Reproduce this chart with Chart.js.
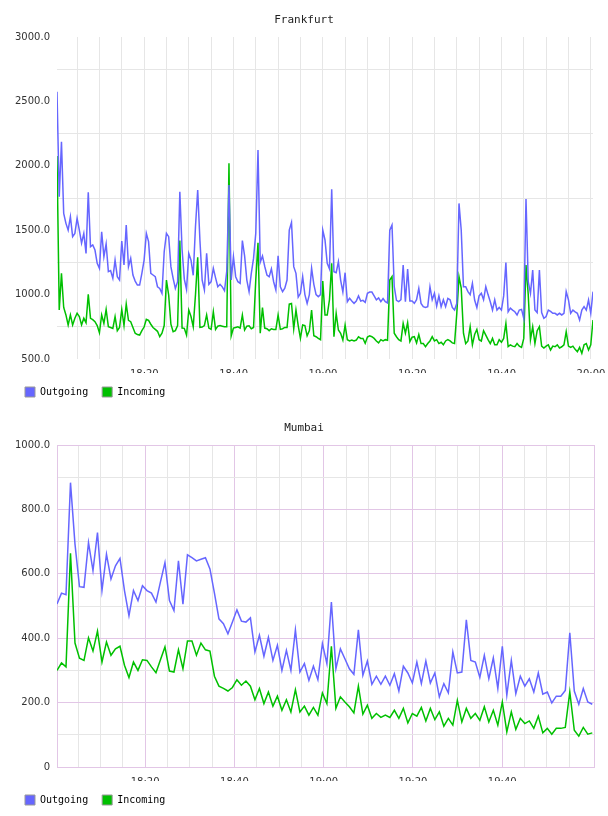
<!DOCTYPE html>
<html>
<head>
<meta charset="utf-8">
<script src="https://cdn.jsdelivr.net/npm/chart.js@4.4.0/dist/chart.umd.min.js"></script>
<style>
body { margin: 0; background: #fff; }
.box { position: absolute; left: 0; width: 608px; height: 408px; }
</style>
</head>
<body>
<div class="box" style="top:0"><canvas id="frankfurt" width="608" height="408"></canvas></div>
<div class="box" style="top:408px"><canvas id="mumbai" width="608" height="408"></canvas></div>
<script>
const seriesNames = ['Outgoing', 'Incoming'];
const seriesColors = ['#6666ff', '#00c000'];

// minutes after 18:00
const frankfurtStart = 0.45;
const frankfurtStep = 0.5;
const frankfurtOut = [
    2575, 1760, 2187, 1630, 1553, 1500, 1605, 1450, 1475, 1592,
    1501, 1400, 1475, 1320, 1794, 1372, 1385, 1346, 1243, 1204,
    1488, 1294, 1393, 1178, 1186, 1126, 1268, 1139, 1113, 1416,
    1230, 1540, 1217, 1282, 1152, 1105, 1074, 1074, 1165, 1268,
    1475, 1411, 1165, 1152, 1139, 1061, 1048, 1010, 1333, 1475,
    1450, 1217, 1126, 1048, 1100, 1799, 1350, 1120, 1040, 1320,
    1268, 1150, 1527, 1812, 1420, 1113, 1036, 1320, 1080, 1100,
    1204, 1130, 1061, 1080, 1060, 1030, 1180, 1850, 1113, 1294,
    1139, 1100, 1087, 1419, 1300, 1113, 1023, 1165, 1281, 1475,
    2123, 1250, 1300, 1220, 1152, 1139, 1200, 1100, 1036, 1302,
    1061, 1023, 1050, 1113, 1501, 1560, 1217, 1165, 980, 1010,
    1139, 1000, 932, 1000, 1204, 1080, 1000, 984, 1000, 1501,
    1424, 1243, 1200, 1817, 1178, 1170, 1255, 1113, 1020, 1170,
    945, 971, 950, 932, 950, 990, 950, 955, 940, 1010,
    1020, 1020, 990, 960, 975, 945, 970, 945, 935, 1501,
    1540, 1061, 955, 945, 960, 1230, 945, 1199, 950, 950,
    932, 960, 1048, 932, 906, 900, 906, 1061, 960, 1010,
    910, 990, 906, 960, 906, 970, 960, 900, 880, 930,
    1708, 1500, 1061, 1061, 1023, 1000, 1087, 958, 900, 990,
    1010, 960, 1061, 1000, 945, 880, 960, 880, 900, 880,
    990, 1248, 867, 895, 880, 867, 842, 880, 885, 816,
    1742, 1100, 1010, 1191, 880, 860, 1191, 860, 816, 830,
    880, 870, 855, 855, 842, 855, 842, 855, 1023, 960,
    855, 880, 866, 855, 803, 880, 906, 880, 958, 855, 1023
];
const frankfurtIn = [
    2076, 880, 1165, 900, 842, 764, 842, 764, 816, 855,
    830, 764, 816, 782, 1002, 816, 806, 790, 760, 704,
    842, 776, 885, 751, 745, 738, 829, 720, 745, 885,
    760, 927, 800, 790, 745, 700, 690, 686, 720, 748,
    808, 800, 770, 745, 730, 715, 673, 700, 760, 1113,
    997, 770, 712, 720, 760, 1419, 740, 738, 686, 880,
    830, 751, 997, 1289, 745, 748, 760, 842, 740, 730,
    867, 730, 755, 760, 755, 750, 750, 2019, 680, 740,
    745, 750, 740, 842, 725, 755, 758, 735, 745, 1113,
    1403, 700, 900, 740, 735, 720, 735, 730, 730, 842,
    730, 735, 745, 745, 927, 932, 735, 880, 760, 660,
    764, 760, 680, 720, 880, 680, 673, 660, 650, 1105,
    842, 842, 960, 1243, 673, 855, 725, 700, 647, 764,
    650, 640, 647, 640, 647, 673, 660, 660, 622, 670,
    680, 673, 660, 640, 625, 650, 640, 650, 645, 1113,
    1139, 700, 673, 650, 640, 777, 700, 782, 635, 670,
    673, 625, 690, 620, 620, 596, 620, 640, 673, 640,
    650, 620, 630, 610, 640, 650, 640, 625, 620, 850,
    1139, 1050, 700, 620, 640, 751, 610, 690, 730, 650,
    640, 720, 685, 650, 620, 660, 610, 610, 650, 630,
    660, 777, 596, 610, 600, 596, 620, 600, 590, 660,
    1230, 1000, 650, 751, 620, 720, 751, 600, 585, 600,
    610, 570, 600, 595, 610, 585, 595, 610, 712, 600,
    590, 600, 575, 557, 590, 544, 610, 620, 570, 610, 803
];

const mumbaiStart = 0.25;
const mumbaiStep = 1.0077;
const mumbaiOut = [
    506, 540, 535, 883, 692, 560, 558, 697, 610, 728,
    548, 661, 584, 625, 648, 548, 470, 548, 517, 563,
    548, 540, 512, 575, 635, 517, 486, 640, 506, 659,
    650, 640, 645, 650, 615, 540, 460, 445, 414, 450,
    488, 453, 450, 463, 357, 409, 344, 403, 331, 378,
    300, 362, 300, 426, 295, 321, 269, 313, 271, 383,
    321, 512, 305, 367, 336, 305, 288, 426, 285, 329,
    257, 282, 257, 282, 254, 290, 236, 313, 292, 261,
    326, 259, 329, 261, 292, 218, 259, 230, 357, 292,
    295, 457, 331, 326, 278, 347, 274, 339, 244, 375,
    223, 331, 228, 282, 251, 274, 233, 292, 226, 233,
    199, 220, 220, 238, 417, 236, 195, 244, 202, 195
];
const mumbaiIn = [
    300, 323, 311, 664, 385, 338, 331, 401, 360, 422,
    326, 388, 347, 367, 375, 316, 278, 326, 300, 333,
    331, 311, 293, 333, 373, 298, 295, 364, 305, 391,
    391, 347, 385, 364, 360, 282, 251, 244, 236, 247,
    271, 254, 267, 251, 209, 244, 197, 233, 189, 220,
    176, 209, 171, 240, 171, 189, 161, 185, 161, 230,
    197, 375, 182, 218, 202, 187, 168, 251, 164, 192,
    151, 166, 154, 161, 154, 176, 151, 182, 137, 166,
    158, 185, 143, 182, 147, 171, 127, 151, 130, 207,
    140, 182, 151, 166, 145, 187, 140, 176, 130, 202,
    109, 171, 117, 151, 135, 143, 120, 158, 106, 120,
    102, 120, 120, 123, 233, 114, 96, 123, 102, 106
];

const gridGrey = '#e6e6e6';
const gridPink = '#e2c6e6';
const tickFont = { family: 'DejaVu Sans', size: 10 };
const monoFont = { family: 'DejaVu Sans Mono', size: 10 };

function timeLabel(m) {
    const h = 18 + Math.floor(m / 60);
    return h + ':' + String(m % 60).padStart(2, '0');
}

function range(from, to, step) {
    const out = [];
    for (let v = from; v <= to; v += step) out.push(v);
    return out;
}

function points(start, step, values) {
    return values.map((v, i) => ({ x: start + step * i, y: v }));
}

function drawChart(canvasId, title, start, step, outVals, inVals, ax) {
    new Chart(document.getElementById(canvasId), {
        type: 'line',
        data: {
            datasets: [outVals, inVals].map((vals, k) => ({
                label: seriesNames[k],
                data: points(start, step, vals),
                borderColor: seriesColors[k],
                backgroundColor: seriesColors[k],
                borderWidth: 1.5,
                pointRadius: 0,
                tension: 0,
                fill: false
            }))
        },
        options: {
            responsive: false,
            animation: false,
            events: [],
            layout: { padding: { left: 11, right: 11, top: 0, bottom: 1 } },
            plugins: {
                title: {
                    display: true,
                    text: title,
                    color: '#222',
                    font: { family: 'DejaVu Sans Mono', size: 11, weight: 'normal', lineHeight: '14px' },
                    padding: { top: 13, bottom: 10 }
                },
                legend: {
                    position: 'bottom',
                    align: 'start',
                    labels: {
                        boxWidth: 10,
                        boxHeight: 10,
                        padding: 14,
                        color: '#000',
                        font: monoFont,
                        generateLabels: () => seriesNames.map((name, k) => ({
                            text: name,
                            fillStyle: seriesColors[k],
                            strokeStyle: '#999',
                            lineWidth: 1,
                            hidden: false,
                            datasetIndex: k
                        }))
                    }
                },
                tooltip: { enabled: false }
            },
            scales: {
                x: {
                    type: 'linear',
                    min: ax.xMin,
                    max: ax.xMax,
                    afterBuildTicks: a => { a.ticks = ax.xTicks.map(v => ({ value: v })); },
                    afterFit: a => { a.height = 14; a.paddingLeft = 0; a.paddingRight = ax.rightPad; },
                    ticks: {
                        autoSkip: false,
                        maxRotation: 0,
                        padding: 9,
                        color: '#333',
                        font: tickFont,
                        callback: v => (v % 20 === 0 ? timeLabel(v) : '')
                    },
                    grid: {
                        drawTicks: false,
                        color: c => ax.xGrid(c.tick ? c.tick.value : 0)
                    },
                    border: { display: ax.border, color: gridPink }
                },
                y: {
                    min: ax.yMin,
                    max: ax.yMax,
                    afterBuildTicks: a => { a.ticks = ax.yTicks.map(v => ({ value: v })); },
                    afterFit: a => { a.width = 46; a.paddingTop = 0; a.paddingBottom = 0; },
                    ticks: {
                        padding: 7,
                        color: '#333',
                        font: tickFont,
                        callback: v => (v % ax.yLabelEvery === 0 ? (v === 0 ? '0' : v.toFixed(1)) : '')
                    },
                    grid: {
                        drawTicks: false,
                        color: c => ax.yGrid(c.tick ? c.tick.value : 0)
                    },
                    border: { display: ax.border, color: gridPink }
                }
            }
        }
    });
}

const frankfurtXMax = frankfurtStart + frankfurtStep * (frankfurtOut.length - 1);
drawChart('frankfurt', 'Frankfurt', frankfurtStart, frankfurtStep, frankfurtOut, frankfurtIn, {
    xMin: frankfurtStart,
    xMax: frankfurtXMax,
    xTicks: range(5, 120, 5),
    yMin: 500,
    yMax: 3000,
    yTicks: range(500, 3000, 250),
    yLabelEvery: 500,
    rightPad: 15,
    border: false,
    xGrid: v => gridGrey,
    yGrid: v => (v % 500 === 0 ? 'rgba(0,0,0,0)' : gridGrey)
});

const mumbaiXMax = 120.55;
drawChart('mumbai', 'Mumbai', mumbaiStart, mumbaiStep, mumbaiOut, mumbaiIn, {
    xMin: 0.25,
    xMax: mumbaiXMax,
    xTicks: range(5, 115, 5).concat([mumbaiXMax]),
    yMin: 0,
    yMax: 1000,
    yTicks: range(0, 1000, 100),
    yLabelEvery: 200,
    rightPad: 14,
    border: true,
    xGrid: v => (v % 20 === 0 || v === mumbaiXMax ? gridPink : gridGrey),
    yGrid: v => (v % 200 === 0 ? gridPink : gridGrey)
});
</script>
</body>
</html>
